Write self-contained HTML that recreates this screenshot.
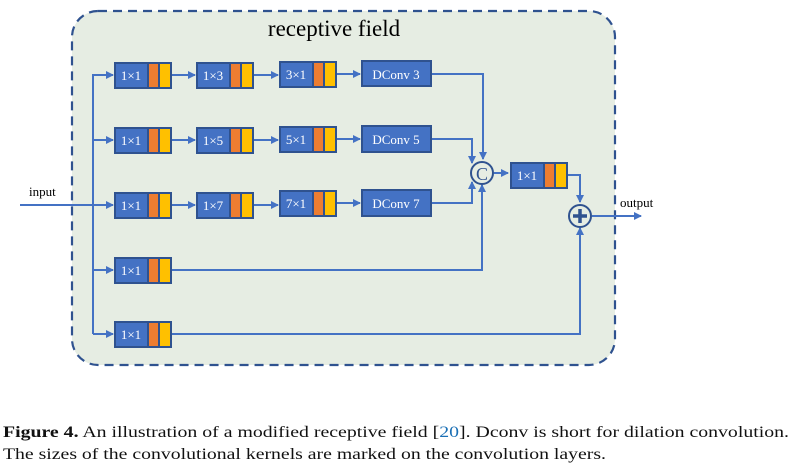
<!DOCTYPE html>
<html><head><meta charset="utf-8"><style>
html,body{margin:0;padding:0;background:#fff;}
svg{display:block;}
</style></head><body>
<svg width="796" height="469" viewBox="0 0 796 469" xmlns="http://www.w3.org/2000/svg" font-family="Liberation Serif, serif">
<defs>
<marker id="a" markerWidth="8" markerHeight="8" refX="7" refY="4" orient="auto" markerUnits="userSpaceOnUse">
<path d="M0,0 L8,4 L0,8 z" fill="#4472c4"/></marker>
<g id="blk">
<rect x="0" y="0" width="33" height="25" fill="#4472c4" stroke="#2f528f" stroke-width="2"/>
<rect x="33" y="0" width="11" height="25" fill="#ed7d31" stroke="#2f528f" stroke-width="2"/>
<rect x="44" y="0" width="12" height="25" fill="#ffc000" stroke="#2f528f" stroke-width="2"/>
</g>
</defs>
<rect x="72" y="11" width="543" height="354" rx="26" fill="#e6ede3" stroke="#2f528f" stroke-width="2.2" stroke-dasharray="9,6"/>
<text x="334" y="36" font-size="23" text-anchor="middle" fill="#000">receptive field</text>
<g stroke="#4472c4" stroke-width="2" fill="none">
<path d="M20,205 H113" marker-end="url(#a)"/>
<path d="M93,334 V75 H113" marker-end="url(#a)"/>
<path d="M93,140 H113" marker-end="url(#a)"/>
<path d="M93,270 H113" marker-end="url(#a)"/>
<path d="M93,334 H113" marker-end="url(#a)"/>
<path d="M171,75 H195" marker-end="url(#a)"/><path d="M254,75 H278" marker-end="url(#a)"/><path d="M337,74 H360" marker-end="url(#a)"/>
<path d="M171,140 H195" marker-end="url(#a)"/><path d="M254,140 H278" marker-end="url(#a)"/><path d="M337,139 H360" marker-end="url(#a)"/>
<path d="M171,205 H195" marker-end="url(#a)"/><path d="M254,205 H278" marker-end="url(#a)"/><path d="M337,203 H360" marker-end="url(#a)"/>
<path d="M431,74 H483 V159" marker-end="url(#a)"/>
<path d="M431,139 H472 V163" marker-end="url(#a)"/>
<path d="M431,203 H472 V182" marker-end="url(#a)"/>
<path d="M171,270 H482 V185" marker-end="url(#a)"/>
<path d="M494,173 H508" marker-end="url(#a)"/>
<path d="M567,175 H580 V202" marker-end="url(#a)"/>
<path d="M171,334 H580 V228" marker-end="url(#a)"/>
<path d="M592,216 H641" marker-end="url(#a)"/>
</g>
<g font-size="13" fill="#fff">
<use href="#blk" x="115" y="63"/><text x="131" y="80" text-anchor="middle">1×1</text>
<use href="#blk" x="197" y="63"/><text x="213" y="80" text-anchor="middle">1×3</text>
<use href="#blk" x="280" y="62"/><text x="296" y="79" text-anchor="middle">3×1</text>
<rect x="362" y="61" width="69" height="25" fill="#4472c4" stroke="#2f528f" stroke-width="2"/><text x="396" y="79" text-anchor="middle">DConv 3</text>
<use href="#blk" x="115" y="128"/><text x="131" y="145" text-anchor="middle">1×1</text>
<use href="#blk" x="197" y="128"/><text x="213" y="145" text-anchor="middle">1×5</text>
<use href="#blk" x="280" y="127"/><text x="296" y="144" text-anchor="middle">5×1</text>
<rect x="362" y="126" width="69" height="26" fill="#4472c4" stroke="#2f528f" stroke-width="2"/><text x="396" y="144" text-anchor="middle">DConv 5</text>
<use href="#blk" x="115" y="193"/><text x="131" y="210" text-anchor="middle">1×1</text>
<use href="#blk" x="197" y="193"/><text x="213" y="210" text-anchor="middle">1×7</text>
<use href="#blk" x="280" y="191"/><text x="296" y="208" text-anchor="middle">7×1</text>
<rect x="362" y="190" width="69" height="26" fill="#4472c4" stroke="#2f528f" stroke-width="2"/><text x="396" y="208" text-anchor="middle">DConv 7</text>
<use href="#blk" x="115" y="258"/><text x="131" y="275" text-anchor="middle">1×1</text>
<use href="#blk" x="115" y="322"/><text x="131" y="339" text-anchor="middle">1×1</text>
<use href="#blk" x="511" y="163"/><text x="527" y="180" text-anchor="middle">1×1</text>
</g>
<circle cx="482" cy="173" r="11" fill="#e6ede3" stroke="#2f528f" stroke-width="2"/>
<text x="482" y="180" font-size="18" text-anchor="middle" fill="#2f528f">C</text>
<circle cx="580" cy="216" r="11" fill="#e6ede3" stroke="#2f528f" stroke-width="2"/>
<path d="M580,209 V223 M573,216 H587" stroke="#2f528f" stroke-width="3.5"/>
<text x="29" y="196" font-size="13" fill="#000">input</text>
<text x="620" y="207" font-size="13" fill="#000">output</text>
<text x="3" y="437" font-size="15.5" fill="#111" textLength="786" lengthAdjust="spacingAndGlyphs"><tspan font-weight="bold">Figure 4.</tspan> An illustration of a modified receptive field [<tspan fill="#1a6fb5">20</tspan>]. Dconv is short for dilation convolution.</text>
<text x="3" y="459" font-size="15.5" fill="#111" textLength="603" lengthAdjust="spacingAndGlyphs">The sizes of the convolutional kernels are marked on the convolution layers.</text>
</svg>
</body></html>
